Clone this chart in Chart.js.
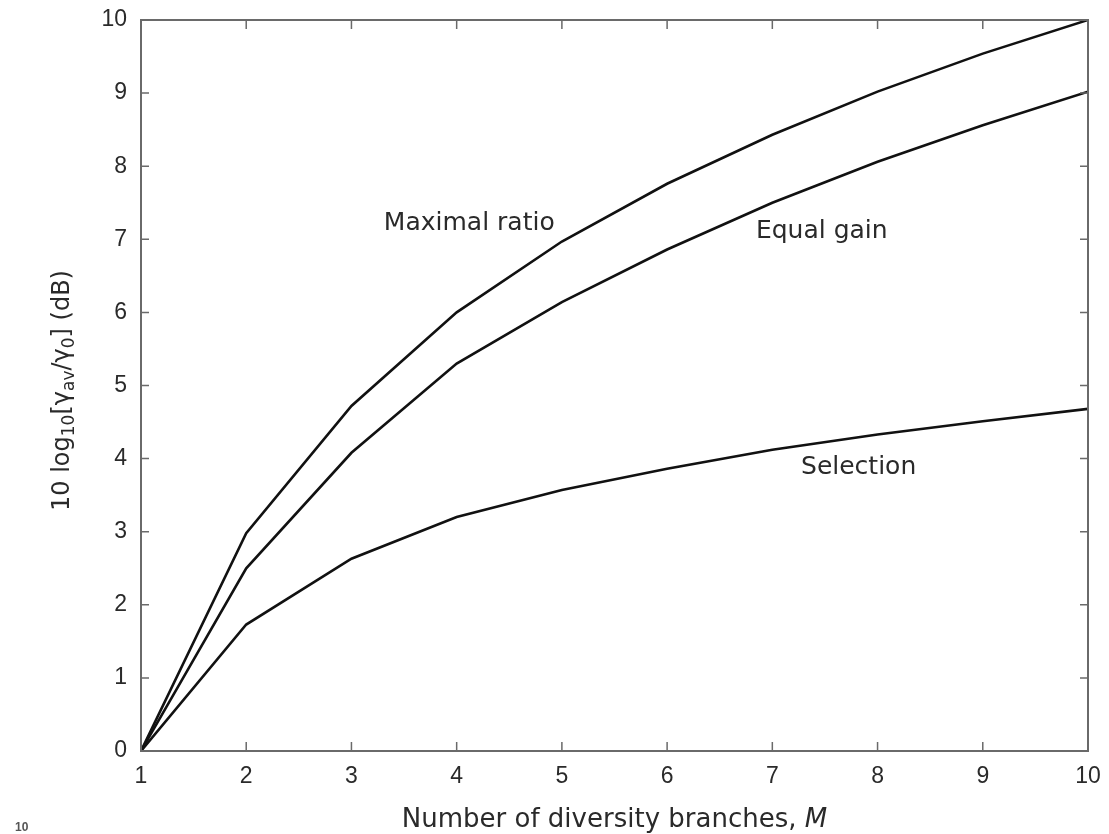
<!DOCTYPE html>
<html>
<head>
<meta charset="utf-8">
<script src="https://cdn.jsdelivr.net/npm/chart.js@4"></script>
<style>
 body { margin: 0; background: #fff; }
 #wrap { width: 1109px; height: 834px; }
</style>
</head>
<body>
<div id="wrap"><canvas id="gainChart"></canvas></div>
<script>
const branches = [1, 2, 3, 4, 5, 6, 7, 8, 9, 10]
const maximalRatio = [0, 2.98, 4.72, 6.0, 6.97, 7.76, 8.43, 9.02, 9.54, 10.0]
const equalGain = [0, 2.5, 4.08, 5.3, 6.14, 6.86, 7.5, 8.06, 8.56, 9.02]
const selection = [0, 1.73, 2.63, 3.2, 3.57, 3.86, 4.12, 4.33, 4.51, 4.68]

const curveLabels = [
 { text: "Maximal ratio", x: 4.12, y: 7.22 },
 { text: "Equal gain", x: 7.47, y: 7.1 },
 { text: "Selection", x: 7.82, y: 3.88 }
]

const font = "'Liberation Sans', Arial, sans-serif"
const wideFont = "'DejaVu Sans', sans-serif"
const textColor = "#2a2a2a"
const frameColor = "#6a6a6a"

const toPoints = ys => ys.map((y, i) => ({ x: branches[i], y: y }))

const line = (label, ys) => ({
 label: label,
 data: toPoints(ys),
 borderColor: "#111",
 borderWidth: 2.6,
 pointRadius: 0,
 tension: 0,
 fill: false
})

// frame, inward ticks, titles and curve labels
const decor = {
 id: "decor",
 afterDatasetsDraw(chart) {
  const ctx = chart.ctx
  const a = chart.chartArea
  const xs = chart.scales.x
  const ys = chart.scales.y
  ctx.save()
  ctx.strokeStyle = frameColor
  ctx.lineWidth = 2
  ctx.strokeRect(a.left, a.top, a.right - a.left, a.bottom - a.top)
  ctx.lineWidth = 1.5
  ctx.beginPath()
  xs.ticks.forEach(t => {
   const px = xs.getPixelForValue(t.value)
   ctx.moveTo(px, a.bottom); ctx.lineTo(px, a.bottom - 9)
   ctx.moveTo(px, a.top); ctx.lineTo(px, a.top + 9)
  })
  ys.ticks.forEach(t => {
   const py = ys.getPixelForValue(t.value)
   ctx.moveTo(a.left, py); ctx.lineTo(a.left + 8, py)
   ctx.moveTo(a.right, py); ctx.lineTo(a.right - 8, py)
  })
  ctx.stroke()

  ctx.fillStyle = textColor
  ctx.textAlign = "center"
  ctx.textBaseline = "middle"
  ctx.font = "25px " + wideFont
  curveLabels.forEach(l => {
   ctx.fillText(l.text, xs.getPixelForValue(l.x), ys.getPixelForValue(l.y))
  })

  // x title with italic M
  const xt1 = "Number of diversity branches, "
  const xt2 = "M"
  ctx.font = "26px " + wideFont
  const w1 = ctx.measureText(xt1).width
  ctx.font = "italic 26px " + wideFont
  const w2 = ctx.measureText(xt2).width
  let sx = (a.left + a.right) / 2 - (w1 + w2) / 2
  ctx.textAlign = "left"
  ctx.textBaseline = "alphabetic"
  ctx.font = "26px " + wideFont
  ctx.fillText(xt1, sx, 827)
  ctx.font = "italic 26px " + wideFont
  ctx.fillText(xt2, sx + w1, 827)

  // y title with subscripts
  const parts = [
   ["10 log", 0], ["10", 1], ["[γ", 0], ["av", 1], ["/γ", 0], ["0", 1], ["] (dB)", 0]
  ]
  const big = "24px " + wideFont
  const small = "17px " + wideFont
  let total = 0
  parts.forEach(p => { ctx.font = p[1] ? small : big; total += ctx.measureText(p[0]).width })
  ctx.translate(69, (a.top + a.bottom) / 2 + 5)
  ctx.rotate(-Math.PI / 2)
  let cx = -total / 2
  parts.forEach(p => {
   ctx.font = p[1] ? small : big
   ctx.fillText(p[0], cx, p[1] ? 5 : 0)
   cx += ctx.measureText(p[0]).width
  })
  ctx.restore()

  ctx.save()
  ctx.fillStyle = "#555"
  ctx.font = "bold 12px " + font
  ctx.textBaseline = "alphabetic"
  ctx.fillText("10", 15, 831)
  ctx.restore()
 }
}

new Chart(document.getElementById("gainChart"), {
 type: "line",
 data: {
  datasets: [
   line("Maximal ratio", maximalRatio),
   line("Equal gain", equalGain),
   line("Selection", selection)
  ]
 },
 options: {
  responsive: true,
  maintainAspectRatio: false,
  animation: false,
  layout: { padding: { left: 0, right: 21, top: 20, bottom: 0 } },
  plugins: { legend: { display: false }, tooltip: { enabled: false } },
  scales: {
   x: {
    type: "linear",
    min: 1,
    max: 10,
    grid: { display: false, drawTicks: false },
    border: { display: false },
    ticks: { stepSize: 1, padding: 12, color: textColor, font: { size: 23, family: font } },
    afterFit: s => { s.height = 83; s.paddingLeft = 0; s.paddingRight = 0 }
   },
   y: {
    min: 0,
    max: 10,
    grid: { display: false, drawTicks: false },
    border: { display: false },
    ticks: { stepSize: 1, padding: 14, color: textColor, font: { size: 23, family: font } },
    afterFit: s => { s.width = 141; s.paddingTop = 0; s.paddingBottom = 0 }
   }
  }
 },
 plugins: [decor]
})
</script>
</body>
</html>
